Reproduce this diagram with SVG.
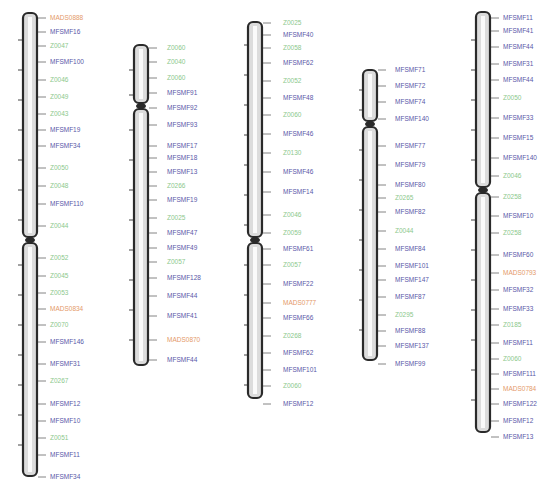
<svg xmlns="http://www.w3.org/2000/svg" width="557" height="485" viewBox="0 0 557 485">
<defs>
<style>
text{font-family:"Liberation Sans",Arial,sans-serif;font-size:6.5px;dominant-baseline:middle}
.b{fill:#5a58a8}.g{fill:#8cc88c}.o{fill:#e49a6a}
.arm{fill:#dcdcdc;stroke:#2a2a2a;stroke-width:2.2}
.core{fill:#fafafa;stroke:none}
.cen{fill:#2a2a2a}
.t{stroke:#666;stroke-width:0.8}
.tl{stroke:#444;stroke-width:1}
</style>
</defs>
<rect width="557" height="485" fill="#fff"/>
<g id="connectors">
<path class="t" d="M38 18h8M38 32h8M38 46h8M38 62h8M38 80h8M38 97h8M38 114h8M38 130h8M38 146h8M38 168h8M38 186h8M38 204h8M38 226h8M38 258h8M38 276h8M38 293h8M38 309h8M38 325h8M38 342h8M38 364h8M38 381h8M38 404h8M38 421h8M38 438h8M38 455h8M38 477h8"/>
<path class="tl" d="M18 40h4M18 70h4M18 100h4M18 130h4M18 160h4M18 190h4M18 220h4M18 265h4M18 295h4M18 325h4M18 355h4M18 385h4M18 415h4M18 445h4"/>
<path class="t" d="M149 48h8M149 62h8M149 78h8M149 93h8M149 108h8M149 125h8M149 146h8M149 158h8M149 172h8M149 186h8M149 200h8M149 218h8M149 233h8M149 248h8M149 262h8M149 278h8M149 296h8M149 316h8M149 340h8M149 360h8"/>
<path class="tl" d="M129 70h4M129 95h4M129 130h4M129 160h4M129 190h4M129 220h4M129 250h4M129 280h4M129 310h4M129 340h4"/>
<path class="t" d="M263 23h8M263 35h8M263 48h8M263 63h8M263 81h8M263 98h8M263 115h8M263 134h8M263 153h8M263 172h8M263 192h8M263 215h8M263 233h8M263 249h8M263 265h8M263 284h8M263 303h8M263 318h8M263 336h8M263 353h8M263 370h8M263 386h8M263 404h8"/>
<path class="tl" d="M244 45h4M244 75h4M244 105h4M244 135h4M244 165h4M244 195h4M244 225h4M244 265h4M244 295h4M244 325h4M244 355h4M244 385h4"/>
<path class="t" d="M378 70h8M378 86h8M378 102h8M378 119h8M378 146h8M378 165h8M378 185h8M378 198h8M378 212h8M378 231h8M378 249h8M378 266h8M378 280h8M378 297h8M378 315h8M378 331h8M378 346h8M378 364h8"/>
<path class="tl" d="M359 90h4M359 110h4M359 150h4M359 180h4M359 210h4M359 240h4M359 270h4M359 300h4M359 330h4"/>
<path class="t" d="M491 18h8M491 31h8M491 47h8M491 64h8M491 80h8M491 98h8M491 118h8M491 138h8M491 158h8M491 176h8M491 197h8M491 216h8M491 233h8M491 255h8M491 273h8M491 290h8M491 309h8M491 325h8M491 343h8M491 359h8M491 374h8M491 389h8M491 404h8M491 421h8M491 437h8"/>
<path class="tl" d="M471 40h4M471 70h4M471 100h4M471 130h4M471 160h4M471 220h4M471 250h4M471 280h4M471 310h4M471 340h4M471 370h4M471 400h4"/>
</g>
<g id="chr1">
<rect class="arm" x="23" y="13" width="14" height="224" rx="5"/>
<rect class="core" x="28" y="17" width="4" height="216"/>
<rect class="arm" x="23" y="243" width="14" height="233" rx="5"/>
<rect class="core" x="28" y="247" width="4" height="225"/>
<ellipse class="cen" cx="30" cy="240" rx="5" ry="3"/>
<text x="50" y="18" class="o">MADS0888</text>
<text x="50" y="32" class="b">MFSMF16</text>
<text x="50" y="46" class="g">Z0047</text>
<text x="50" y="62" class="b">MFSMF100</text>
<text x="50" y="80" class="g">Z0046</text>
<text x="50" y="97" class="g">Z0049</text>
<text x="50" y="114" class="g">Z0043</text>
<text x="50" y="130" class="b">MFSMF19</text>
<text x="50" y="146" class="b">MFSMF34</text>
<text x="50" y="168" class="g">Z0050</text>
<text x="50" y="186" class="g">Z0048</text>
<text x="50" y="204" class="b">MFSMF110</text>
<text x="50" y="226" class="g">Z0044</text>
<text x="50" y="258" class="g">Z0052</text>
<text x="50" y="276" class="g">Z0045</text>
<text x="50" y="293" class="g">Z0053</text>
<text x="50" y="309" class="o">MADS0834</text>
<text x="50" y="325" class="g">Z0070</text>
<text x="50" y="342" class="b">MFSMF146</text>
<text x="50" y="364" class="b">MFSMF31</text>
<text x="50" y="381" class="g">Z0267</text>
<text x="50" y="404" class="b">MFSMF12</text>
<text x="50" y="421" class="b">MFSMF10</text>
<text x="50" y="438" class="g">Z0051</text>
<text x="50" y="455" class="b">MFSMF11</text>
<text x="50" y="477" class="b">MFSMF34</text>
</g>
<g id="chr2">
<rect class="arm" x="134" y="45" width="14" height="58" rx="5"/>
<rect class="core" x="139" y="49" width="4" height="50"/>
<rect class="arm" x="134" y="109" width="14" height="256" rx="5"/>
<rect class="core" x="139" y="113" width="4" height="248"/>
<ellipse class="cen" cx="141" cy="106" rx="5" ry="3"/>
<text x="167" y="48" class="g">Z0060</text>
<text x="167" y="62" class="g">Z0040</text>
<text x="167" y="78" class="g">Z0060</text>
<text x="167" y="93" class="b">MFSMF91</text>
<text x="167" y="108" class="b">MFSMF92</text>
<text x="167" y="125" class="b">MFSMF93</text>
<text x="167" y="146" class="b">MFSMF17</text>
<text x="167" y="158" class="b">MFSMF18</text>
<text x="167" y="172" class="b">MFSMF13</text>
<text x="167" y="186" class="g">Z0266</text>
<text x="167" y="200" class="b">MFSMF19</text>
<text x="167" y="218" class="g">Z0025</text>
<text x="167" y="233" class="b">MFSMF47</text>
<text x="167" y="248" class="b">MFSMF49</text>
<text x="167" y="262" class="g">Z0057</text>
<text x="167" y="278" class="b">MFSMF128</text>
<text x="167" y="296" class="b">MFSMF44</text>
<text x="167" y="316" class="b">MFSMF41</text>
<text x="167" y="340" class="o">MADS0870</text>
<text x="167" y="360" class="b">MFSMF44</text>
</g>
<g id="chr3">
<rect class="arm" x="248" y="22" width="14" height="215" rx="5"/>
<rect class="core" x="253" y="26" width="4" height="207"/>
<rect class="arm" x="248" y="243" width="14" height="155" rx="5"/>
<rect class="core" x="253" y="247" width="4" height="147"/>
<ellipse class="cen" cx="255" cy="240" rx="5" ry="3"/>
<text x="283" y="23" class="g">Z0025</text>
<text x="283" y="35" class="b">MFSMF40</text>
<text x="283" y="48" class="g">Z0058</text>
<text x="283" y="63" class="b">MFSMF62</text>
<text x="283" y="81" class="g">Z0052</text>
<text x="283" y="98" class="b">MFSMF48</text>
<text x="283" y="115" class="g">Z0060</text>
<text x="283" y="134" class="b">MFSMF46</text>
<text x="283" y="153" class="g">Z0130</text>
<text x="283" y="172" class="b">MFSMF46</text>
<text x="283" y="192" class="b">MFSMF14</text>
<text x="283" y="215" class="g">Z0046</text>
<text x="283" y="233" class="g">Z0059</text>
<text x="283" y="249" class="b">MFSMF61</text>
<text x="283" y="265" class="g">Z0057</text>
<text x="283" y="284" class="b">MFSMF22</text>
<text x="283" y="303" class="o">MADS0777</text>
<text x="283" y="318" class="b">MFSMF66</text>
<text x="283" y="336" class="g">Z0268</text>
<text x="283" y="353" class="b">MFSMF62</text>
<text x="283" y="370" class="b">MFSMF101</text>
<text x="283" y="386" class="g">Z0060</text>
<text x="283" y="404" class="b">MFSMF12</text>
</g>
<g id="chr4">
<rect class="arm" x="363" y="70" width="14" height="51" rx="5"/>
<rect class="core" x="368" y="74" width="4" height="43"/>
<rect class="arm" x="363" y="127" width="14" height="233" rx="5"/>
<rect class="core" x="368" y="131" width="4" height="225"/>
<ellipse class="cen" cx="370" cy="124" rx="5" ry="3"/>
<text x="395" y="70" class="b">MFSMF71</text>
<text x="395" y="86" class="b">MFSMF72</text>
<text x="395" y="102" class="b">MFSMF74</text>
<text x="395" y="119" class="b">MFSMF140</text>
<text x="395" y="146" class="b">MFSMF77</text>
<text x="395" y="165" class="b">MFSMF79</text>
<text x="395" y="185" class="b">MFSMF80</text>
<text x="395" y="198" class="g">Z0265</text>
<text x="395" y="212" class="b">MFSMF82</text>
<text x="395" y="231" class="g">Z0044</text>
<text x="395" y="249" class="b">MFSMF84</text>
<text x="395" y="266" class="b">MFSMF101</text>
<text x="395" y="280" class="b">MFSMF147</text>
<text x="395" y="297" class="b">MFSMF87</text>
<text x="395" y="315" class="g">Z0295</text>
<text x="395" y="331" class="b">MFSMF88</text>
<text x="395" y="346" class="b">MFSMF137</text>
<text x="395" y="364" class="b">MFSMF99</text>
</g>
<g id="chr5">
<rect class="arm" x="476" y="12" width="14" height="175" rx="5"/>
<rect class="core" x="481" y="16" width="4" height="167"/>
<rect class="arm" x="476" y="193" width="14" height="239" rx="5"/>
<rect class="core" x="481" y="197" width="4" height="231"/>
<ellipse class="cen" cx="483" cy="190" rx="5" ry="3"/>
<text x="503" y="18" class="b">MFSMF11</text>
<text x="503" y="31" class="b">MFSMF41</text>
<text x="503" y="47" class="b">MFSMF44</text>
<text x="503" y="64" class="b">MFSMF31</text>
<text x="503" y="80" class="b">MFSMF44</text>
<text x="503" y="98" class="g">Z0050</text>
<text x="503" y="118" class="b">MFSMF33</text>
<text x="503" y="138" class="b">MFSMF15</text>
<text x="503" y="158" class="b">MFSMF140</text>
<text x="503" y="176" class="g">Z0046</text>
<text x="503" y="197" class="g">Z0258</text>
<text x="503" y="216" class="b">MFSMF10</text>
<text x="503" y="233" class="g">Z0258</text>
<text x="503" y="255" class="b">MFSMF60</text>
<text x="503" y="273" class="o">MADS0793</text>
<text x="503" y="290" class="b">MFSMF32</text>
<text x="503" y="309" class="b">MFSMF33</text>
<text x="503" y="325" class="g">Z0185</text>
<text x="503" y="343" class="b">MFSMF11</text>
<text x="503" y="359" class="g">Z0060</text>
<text x="503" y="374" class="b">MFSMF111</text>
<text x="503" y="389" class="o">MADS0784</text>
<text x="503" y="404" class="b">MFSMF122</text>
<text x="503" y="421" class="b">MFSMF12</text>
<text x="503" y="437" class="b">MFSMF13</text>
</g>
</svg>
